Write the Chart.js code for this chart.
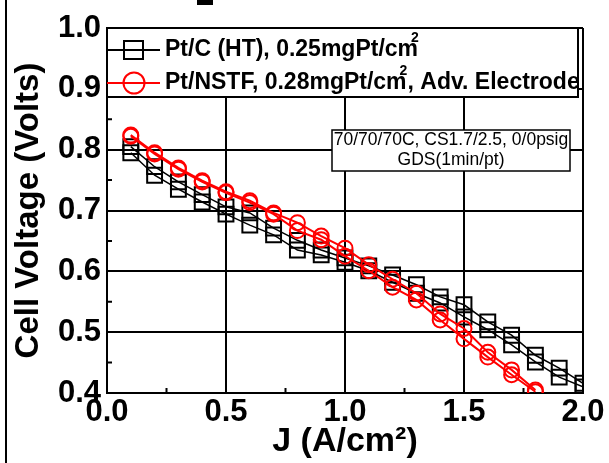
<!DOCTYPE html>
<html>
<head>
<meta charset="utf-8">
<script src="https://cdn.jsdelivr.net/npm/chart.js@4.4.1/dist/chart.umd.min.js"></script>
<style>
  html, body { margin: 0; padding: 0; background: #fff; }
  #wrap { width: 609px; height: 463px; }
</style>
</head>
<body>
<div id="wrap"><canvas id="polcurve" width="609" height="463"></canvas></div>
<script>
// Current density (A/cm2) for each point of the sweeps
const currentJ = [0.1, 0.2, 0.3, 0.4, 0.5, 0.6, 0.7, 0.8, 0.9, 1.0,
                  1.1, 1.2, 1.3, 1.4, 1.5, 1.6, 1.7, 1.8, 1.9, 2.0];

// Pt/C (HT) - two sweeps of the GDS scan
const ptcSweepA = [0.805, 0.772, 0.747, 0.726, 0.706, 0.696, 0.671, 0.651, 0.635, 0.622,
                   0.609, 0.594, 0.578, 0.558, 0.545, 0.517, 0.495, 0.462, 0.441, 0.416];
const ptcSweepB = [0.795, 0.758, 0.735, 0.714, 0.694, 0.676, 0.660, 0.635, 0.627, 0.615,
                   0.601, 0.582, 0.564, 0.548, 0.525, 0.504, 0.479, 0.451, 0.426, 0.410];

// Pt/NSTF - two sweeps, stops at 1.8 A/cm2
const nstfSweepA = [0.824, 0.795, 0.770, 0.749, 0.731, 0.716, 0.696, 0.680, 0.658, 0.638,
                    0.611, 0.587, 0.564, 0.530, 0.506, 0.467, 0.438, 0.405];
const nstfSweepB = [0.822, 0.793, 0.768, 0.747, 0.729, 0.713, 0.694, 0.667, 0.652, 0.625,
                    0.601, 0.574, 0.553, 0.520, 0.489, 0.459, 0.430, 0.402];

const xTicks = [0.0, 0.5, 1.0, 1.5, 2.0];
const yTicks = [0.4, 0.5, 0.6, 0.7, 0.8, 0.9, 1.0];

const legendRows = [
  { before: 'Pt/C (HT), 0.25mgPt/cm', after: '', color: '#000000', marker: 'square' },
  { before: 'Pt/NSTF, 0.28mgPt/cm', after: ', Adv. Electrode', color: '#ff0000', marker: 'circle' }
];
const noteLines = ['70/70/70C, CS1.7/2.5, 0/0psig', 'GDS(1min/pt)'];

const FONT = "'Liberation Sans', Arial, sans-serif";

function toPoints(xs, ys) {
  return ys.map((y, i) => ({ x: xs[i], y: y }));
}

function blackSet(values) {
  return {
    data: toPoints(currentJ, values),
    borderColor: '#000',
    borderWidth: 1.5,
    pointStyle: 'rect',
    pointRadius: 10.5,
    pointBorderWidth: 2,
    pointBorderColor: '#000',
    pointBackgroundColor: 'rgba(0,0,0,0)',
    order: 1
  };
}

function redSet(values) {
  return {
    data: toPoints(currentJ, values),
    borderColor: '#ff0000',
    borderWidth: 2,
    pointStyle: 'circle',
    pointRadius: 7.5,
    pointBorderWidth: 2,
    pointBorderColor: '#ff0000',
    pointBackgroundColor: 'rgba(0,0,0,0)',
    order: 0
  };
}

// Draws the framed legend, the note box, minor ticks and the page edge
const extras = {
  id: 'extras',
  beforeDraw(chart) {
    const ctx = chart.ctx;
    ctx.save();
    ctx.fillStyle = '#fff';
    ctx.fillRect(0, 0, chart.width, chart.height);
    ctx.restore();
  },
  afterDraw(chart) {
    const ctx = chart.ctx;
    const area = chart.chartArea;
    const xs = chart.scales.x;
    const ys = chart.scales.y;
    ctx.save();

    // minor ticks, pointing inwards
    ctx.strokeStyle = '#000';
    ctx.lineWidth = 2;
    ctx.beginPath();
    [0.25, 0.75, 1.25, 1.75].forEach(v => {
      const px = xs.getPixelForValue(v);
      ctx.moveTo(px, area.bottom);
      ctx.lineTo(px, area.bottom - 5);
    });
    [0.45, 0.55, 0.65, 0.75, 0.85, 0.95].forEach(v => {
      const py = ys.getPixelForValue(v);
      ctx.moveTo(area.left, py);
      ctx.lineTo(area.left + 5, py);
    });
    ctx.stroke();

    // legend box
    const lx = area.left, ly = area.top, lw = 471, lh = 69;
    ctx.fillStyle = '#fff';
    ctx.fillRect(lx, ly, lw, lh);
    ctx.lineWidth = 2;
    ctx.strokeStyle = '#000';
    ctx.strokeRect(lx, ly, lw, lh);

    legendRows.forEach((row, i) => {
      const cy = ly + 22 + i * 33;
      ctx.strokeStyle = row.color;
      ctx.lineWidth = 2;
      ctx.beginPath();
      ctx.moveTo(lx, cy);
      ctx.lineTo(lx + 53, cy);
      ctx.stroke();
      ctx.beginPath();
      if (row.marker === 'square') {
        ctx.rect(lx + 17, cy - 9, 19, 18);
      } else {
        ctx.arc(lx + 27, cy, 10.5, 0, Math.PI * 2);
      }
      ctx.stroke();

      ctx.fillStyle = '#000';
      ctx.textBaseline = 'middle';
      ctx.textAlign = 'left';
      ctx.font = 'bold 23px ' + FONT;
      let tx = lx + 58;
      ctx.fillText(row.before, tx, cy);
      tx += ctx.measureText(row.before).width;
      ctx.font = 'bold 14px ' + FONT;
      ctx.fillText('2', tx - 7, cy - 12);
      tx += 1;
      ctx.font = 'bold 23px ' + FONT;
      if (row.after) ctx.fillText(row.after, tx, cy);
    });

    // conditions note
    const nx = 332, ny = 130, nw = 238, nh = 41;
    ctx.fillStyle = '#fff';
    ctx.fillRect(nx, ny, nw, nh);
    ctx.strokeStyle = '#000';
    ctx.lineWidth = 1.5;
    ctx.strokeRect(nx, ny, nw, nh);
    ctx.fillStyle = '#000';
    ctx.font = '17.5px ' + FONT;
    ctx.textAlign = 'center';
    ctx.textBaseline = 'middle';
    ctx.fillText(noteLines[0], nx + nw / 2, ny + 10);
    ctx.fillText(noteLines[1], nx + nw / 2, ny + 30);

    // page edge left over from the source figure
    ctx.fillStyle = '#000';
    ctx.fillRect(5, 0, 2, chart.height);
    ctx.fillRect(197, 0, 16, 5);
    ctx.restore();
  }
};

const ctx = document.getElementById('polcurve').getContext('2d');
new Chart(ctx, {
  type: 'line',
  data: {
    datasets: [
      blackSet(ptcSweepA),
      blackSet(ptcSweepB),
      redSet(nstfSweepA),
      redSet(nstfSweepB)
    ]
  },
  options: {
    responsive: false,
    devicePixelRatio: 1,
    animation: false,
    layout: { padding: { left: 0, right: 26, top: 28, bottom: 0 } },
    plugins: {
      legend: { display: false },
      tooltip: { enabled: false }
    },
    elements: { line: { tension: 0 } },
    scales: {
      x: {
        type: 'linear',
        min: 0,
        max: 2,
        afterFit: s => { s.height = 70; },
        afterBuildTicks: s => { s.ticks = xTicks.map(v => ({ value: v })); },
        ticks: {
          padding: 1,
          color: '#000',
          font: { family: FONT, size: 31, weight: 'bold' },
          callback: v => v.toFixed(1),
          maxRotation: 0
        },
        grid: { color: '#000', lineWidth: 2, drawTicks: false },
        border: { color: '#000', width: 2 },
        title: {
          display: true,
          text: 'J (A/cm²)',
          color: '#000',
          font: { family: FONT, size: 34, weight: 'bold' },
          padding: { top: 0, bottom: 1 }
        }
      },
      y: {
        type: 'linear',
        min: 0.4,
        max: 1.0,
        afterFit: s => { s.width = 107; },
        afterBuildTicks: s => { s.ticks = yTicks.map(v => ({ value: v })); },
        ticks: {
          padding: 6,
          color: '#000',
          font: { family: FONT, size: 31, weight: 'bold' },
          callback: v => v.toFixed(1)
        },
        grid: { color: '#000', lineWidth: 2, drawTicks: false },
        border: { color: '#000', width: 2 },
        title: {
          display: true,
          text: 'Cell Voltage (Volts)',
          color: '#000',
          font: { family: FONT, size: 33, weight: 'bold' },
          padding: { top: 9, bottom: 0 }
        }
      }
    }
  },
  plugins: [extras]
});
</script>
</body>
</html>
